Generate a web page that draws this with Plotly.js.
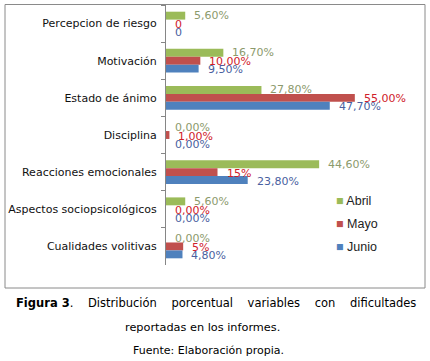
<!DOCTYPE html>
<html>
<head>
<meta charset="utf-8">
<script src="https://cdn.plot.ly/plotly-3.0.1.min.js"></script>
<style>html,body{margin:0;padding:0;background:#fff;}#chart{width:430px;height:361px;}</style>
</head>
<body>
<div id="chart"></div>
<script>
const categories = ["Percepcion de riesgo","Motivación","Estado de ánimo","Disciplina","Reacciones emocionales","Aspectos sociopsicológicos","Cualidades volitivas"];
const seriesNames = ["Abril","Mayo","Junio"];
const abril = [5.6, 16.7, 27.8, 0, 44.6, 5.6, 0];
const mayo = [0, 10, 55, 1, 15, 0, 5];
const junio = [0, 9.5, 47.7, 0, 23.8, 0, 4.8];
const abrilLabels = ["5,60%","16,70%","27,80%","0,00%","44,60%","5,60%","0,00%"];
const mayoLabels = ["0","10,00%","55,00%","1,00%","15%","0,00%","5%"];
const junioLabels = ["0","9,50%","47,70%","0,00%","23,80%","0,00%","4,80%"];

const barColors = ["#9BBB59","#C0504D","#4F81BD"];
const labelColors = ["#8c9a6c","#d0202a","#4a5fa0"];
const values = [abril, mayo, junio];
const labels = [abrilLabels, mayoLabels, junioLabels];
const yShifts = [8, -1, -9];

const W = 430, H = 361, L = 166, R = 372, T = 5, B = 265;
const px = p => (p - L) / (R - L);
const py = p => (B - p) / (B - T);

const traces = values.map((v, i) => ({
  type: "bar", orientation: "h", name: seriesNames[i],
  x: v, y: categories,
  marker: {color: barColors[i], line: {width: 0}},
  showlegend: false, hoverinfo: "skip"
}));

const annotations = [];
values.forEach((v, i) => {
  v.forEach((val, j) => {
    annotations.push({
      x: val, y: categories[j], xref: "x", yref: "y",
      text: labels[i][j], showarrow: false,
      xanchor: "left", yanchor: "middle", xshift: 7, yshift: yShifts[i],
      font: {family: "DejaVu Sans", size: 11, color: labelColors[i]}
    });
  });
});

// legend
const legendY = [201, 224, 247];
seriesNames.forEach((n, i) => {
  annotations.push({
    x: px(334), y: py(legendY[i]), xref: "paper", yref: "paper",
    text: '<span style="color:' + barColors[i] + '">■</span> ' + n,
    showarrow: false, xanchor: "left", yanchor: "middle",
    font: {family: "Liberation Sans", size: 12.5, color: "#222"}
  });
});

// caption
const sp = "\u00a0\u00a0\u00a0 ";
annotations.push({
  x: px(216), y: py(303), xref: "paper", yref: "paper", showarrow: false,
  xanchor: "center", yanchor: "middle",
  text: "<b>Figura 3</b>." + sp + "Distribución" + sp + "porcentual" + sp + "variables" + sp + "con" + sp + "dificultades",
  font: {family: "DejaVu Sans", size: 11.5, color: "#000"}
});
annotations.push({
  x: px(202), y: py(327), xref: "paper", yref: "paper", showarrow: false,
  xanchor: "center", yanchor: "middle",
  text: "reportadas en los informes.",
  font: {family: "DejaVu Sans", size: 11.3, color: "#000"}
});
annotations.push({
  x: px(208), y: py(350), xref: "paper", yref: "paper", showarrow: false,
  xanchor: "center", yanchor: "middle",
  text: "Fuente: Elaboración propia.",
  font: {family: "DejaVu Sans", size: 11, color: "#000"}
});

const layout = {
  width: W, height: H,
  margin: {l: L, r: W - R, t: T, b: H - B, pad: 0},
  paper_bgcolor: "#fff", plot_bgcolor: "#fff",
  barmode: "group", bargap: 0.36, bargroupgap: 0,
  showlegend: false,
  xaxis: {range: [0, 60], visible: false, showgrid: false, zeroline: false, fixedrange: true},
  yaxis: {
    type: "category", autorange: "reversed",
    showline: true, linecolor: "#868686", linewidth: 1,
    ticks: "outside", ticklen: 4, tickcolor: "#868686", tickson: "boundaries",
    showgrid: false, zeroline: false,
    tickfont: {family: "DejaVu Sans", size: 11, color: "#111"},
    ticklabelstandoff: 6
  },
  shapes: [{
    type: "rect", xref: "paper", yref: "paper",
    x0: px(5), x1: px(425), y0: py(288), y1: py(4.5),
    line: {color: "#8a8a8a", width: 1}, fillcolor: "rgba(0,0,0,0)", layer: "below"
  }],
  annotations: annotations
};

Plotly.newPlot("chart", traces, layout, {displayModeBar: false, staticPlot: true});
</script>
</body>
</html>
